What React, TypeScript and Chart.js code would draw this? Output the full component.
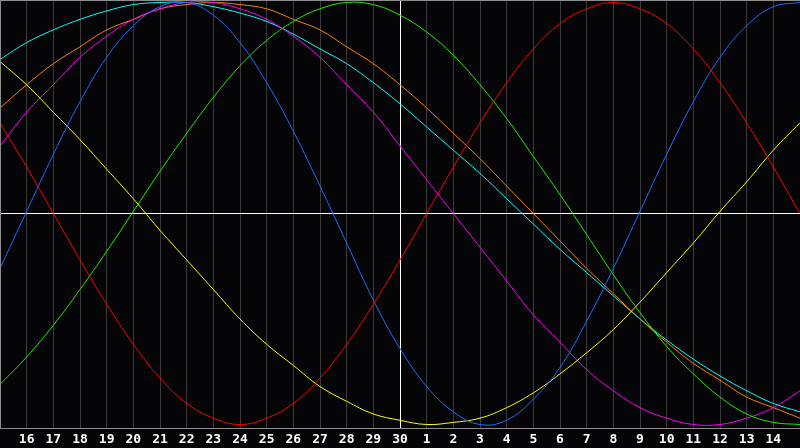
import React, { useEffect, useRef } from "react";
import { Chart, registerables } from "chart.js";

Chart.register(...registerables);

const days = ["15", "16", "17", "18", "19", "20", "21", "22", "23", "24", "25", "26", "27", "28", "29", "30",
  "1", "2", "3", "4", "5", "6", "7", "8", "9", "10", "11", "12", "13", "14", "15"];

const redSeries = [43, 22, 0, -22, -43, -62, -78, -90, -97, -100, -97, -90, -78, -62, -43, -22,
  0, 22, 43, 62, 78, 90, 97, 100, 97, 90, 78, 62, 43, 22, 0];
const blueSeries = [-26, 1, 28, 53, 74, 89, 98, 100, 94, 81, 62, 39, 13, -14, -41, -64,
  -82, -94, -100, -98, -88, -73, -51, -26, 1, 28, 53, 74, 89, 98, 100];
const greenSeries = [-81, -68, -53, -36, -18, 1, 20, 38, 55, 70, 82, 91, 97, 100, 99, 94,
  86, 75, 61, 45, 27, 9, -10, -29, -47, -63, -76, -87, -95, -99, -100];
const yellowSeries = [72, 61, 48, 35, 21, 7, -8, -22, -36, -50, -62, -72, -82, -89, -95, -98,
  -100, -99, -97, -92, -85, -76, -66, -55, -42, -28, -14, 1, 15, 30, 43];
const magentaSeries = [32, 48, 61, 74, 84, 92, 97, 100, 100, 97, 92, 84, 74, 61, 48, 32,
  16, 0, -16, -32, -48, -61, -74, -84, -92, -97, -100, -100, -97, -92, -84];
const orangeSeries = [50, 61, 71, 79, 87, 92, 97, 99, 100, 99, 97, 92, 87, 79, 71, 61,
  50, 38, 26, 13, 0, -13, -26, -38, -50, -61, -71, -79, -87, -92, -97];
const cyanSeries = [73, 81, 87, 92, 96, 99, 100, 100, 98, 95, 91, 85, 78, 71, 62, 52,
  41, 30, 19, 7, -5, -17, -28, -39, -50, -60, -69, -77, -84, -90, -94];

const todayIndex = 15;

const frame = {
  id: "frame",
  afterDraw(chart: any) {
    const { ctx, chartArea } = chart;
    ctx.save();
    ctx.strokeStyle = "#8c8c8c";
    ctx.lineWidth = 1;
    ctx.beginPath();
    ctx.moveTo(0, 0.5);
    ctx.lineTo(chart.width, 0.5);
    ctx.moveTo(0.5, 0);
    ctx.lineTo(0.5, chartArea.bottom);
    ctx.moveTo(0, chartArea.bottom + 0.5);
    ctx.lineTo(chart.width, chartArea.bottom + 0.5);
    ctx.stroke();
    ctx.restore();
  },
};

export default function App() {
  const ref = useRef<HTMLCanvasElement | null>(null);

  useEffect(() => {
    if (!ref.current) return;
    const mk = (data: number[], color: string) => ({
      data,
      borderColor: color,
      borderWidth: 1,
      pointRadius: 0,
      pointHoverRadius: 0,
      tension: 0.4,
      fill: false,
    });
    const chart = new Chart(ref.current, {
      type: "line",
      data: {
        labels: days,
        datasets: [
          mk(redSeries, "#ff0000"),
          mk(blueSeries, "#1a6cff"),
          mk(greenSeries, "#22ee00"),
          mk(yellowSeries, "#ffff00"),
          mk(magentaSeries, "#ff00ff"),
          mk(orangeSeries, "#ff8000"),
          mk(cyanSeries, "#00ffff"),
        ],
      },
      options: {
        animation: false,
        responsive: false,
        events: [],
        layout: { padding: 0, autoPadding: false },
        plugins: { legend: { display: false }, tooltip: { enabled: false } },
        scales: {
          x: {
            type: "category",
            offset: false,
            border: { display: false },
            grid: {
              drawTicks: false,
              color: (c: any) =>
                c.index === todayIndex ? "#ffffff" : c.index === 0 || c.index === days.length - 1 ? "rgba(0,0,0,0)" : "#3a3a3a",
            },
            ticks: {
              autoSkip: false,
              maxRotation: 0,
              minRotation: 0,
              padding: 4,
              color: "#ffffff",
              font: { family: "'DejaVu Sans Mono'", size: 13, weight: "bold" },
              callback: (_v: any, i: number) => (i === 0 || i === days.length - 1 ? "" : days[i]),
            },
            afterFit: (s: any) => {
              s.height = 20;
              s.paddingLeft = 0;
              s.paddingRight = 0;
            },
          },
          y: {
            min: -101.66,
            max: 101.18,
            border: { display: false },
            afterBuildTicks: (s: any) => {
              s.ticks = [{ value: 0 }];
            },
            afterFit: (s: any) => {
              s.width = 0;
              s.paddingTop = 0;
              s.paddingBottom = 0;
            },
            grid: { drawTicks: false, color: "#ffffff" },
            ticks: { display: false },
          },
        },
      },
      plugins: [frame],
    });
    return () => chart.destroy();
  }, []);

  return (
    <div style={{ position: "fixed", left: 0, top: 0, width: 800, height: 448, background: "#050507" }}>
      <canvas ref={ref} width={800} height={448} style={{ display: "block" }} />
    </div>
  );
}
